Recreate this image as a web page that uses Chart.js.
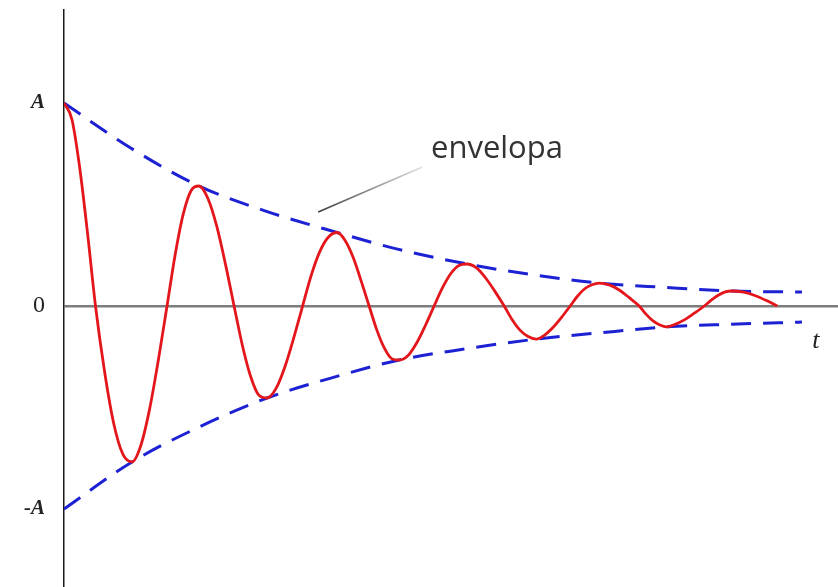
<!DOCTYPE html>
<html>
<head>
<meta charset="utf-8">
<title>Envelopa</title>
<script src="https://cdn.jsdelivr.net/npm/chart.js@4.4.1/dist/chart.umd.min.js"></script>
<style>
  html, body { margin: 0; padding: 0; background: #fff; }
  #wrap { width: 838px; height: 587px; position: relative; }
</style>
</head>
<body>
<div id="wrap"><canvas id="dampedChart"></canvas></div>
<script>
// osilasi teredam, t in half-periods, y in units of A
const tOsc = [
  0, 0.118, 0.236, 0.354, 0.472, 0.609, 0.746, 0.882,
  1.019, 1.150, 1.282, 1.413, 1.544, 1.664, 1.784, 1.904,
  2.024, 2.155, 2.287, 2.418, 2.549, 2.673, 2.796, 2.920,
  3.043, 3.176, 3.310, 3.443, 3.576, 3.705, 3.835, 3.964,
  4.093, 4.213, 4.333, 4.453, 4.573, 4.685, 4.798, 4.910,
  5.022, 5.153, 5.285, 5.416, 5.547, 5.671, 5.795, 5.918,
  6.042, 6.181, 6.320, 6.458, 6.597, 6.717, 6.837, 6.956,
  7.076, 7.204, 7.331, 7.459, 7.586, 7.695, 7.804, 7.912,
  8.021, 8.171, 8.321, 8.471, 8.621, 8.722, 8.823, 8.924,
  9.025, 9.168, 9.310, 9.453, 9.595, 9.700, 9.805, 9.910,
  10.015, 10.184, 10.353, 10.521, 10.69];
const yOsc = [
  1.0, 0.92, 0.68, 0.355, 0, -0.325, -0.58, -0.73,
  -0.768, -0.688, -0.509, -0.268, 0, 0.249, 0.449, 0.568,
  0.591, 0.531, 0.396, 0.209, 0, -0.193, -0.346, -0.439,
  -0.453, -0.407, -0.300, -0.157, 0, 0.151, 0.269, 0.340,
  0.362, 0.323, 0.240, 0.124, 0, -0.115, -0.205, -0.259,
  -0.266, -0.245, -0.182, -0.096, 0, 0.089, 0.159, 0.200,
  0.207, 0.188, 0.138, 0.072, 0, -0.068, -0.120, -0.150,
  -0.163, -0.143, -0.105, -0.055, 0, 0.048, 0.085, 0.105,
  0.113, 0.104, 0.079, 0.041, 0, -0.040, -0.072, -0.092,
  -0.103, -0.089, -0.066, -0.034, 0, 0.029, 0.053, 0.070,
  0.074, 0.068, 0.052, 0.028, 0];

const tUpper = [0, 1.0, 2.024, 3.0, 4.093, 5.0, 6.042, 7.0, 8.021, 9.0, 10.015, 11.06];
const yUpper = [1.0, 0.778, 0.591, 0.47, 0.362, 0.28, 0.207, 0.155, 0.113, 0.092, 0.074, 0.069];

const tLower = [0, 1.019, 2.0, 3.043, 4.0, 5.022, 6.0, 7.076, 8.0, 9.025, 10.0, 11.06];
const yLower = [-1.0, -0.768, -0.60, -0.453, -0.355, -0.266, -0.212, -0.163, -0.133, -0.103, -0.09, -0.079];

const yTicks = [-1, 0, 1];
const yTickLabels = ['-A', '0', 'A'];

const annotText = 'envelopa';
const axisName = 't';

const toPoints = (ts, ys) => ts.map((t, i) => ({ x: t, y: ys[i] }));

const annotPlugin = {
  id: 'annot',
  afterDatasetsDraw(chart) {
    const { ctx, scales: { x, y } } = chart;
    ctx.save();

    // garis penunjuk ke envelopa
    const x1 = x.getPixelForValue(3.81), y1 = y.getPixelForValue(0.463);
    const x2 = x.getPixelForValue(5.37), y2 = y.getPixelForValue(0.685);
    const grad = ctx.createLinearGradient(x1, y1, x2, y2);
    grad.addColorStop(0, 'rgba(60,60,60,1)');
    grad.addColorStop(1, 'rgba(60,60,60,0.15)');
    ctx.strokeStyle = grad;
    ctx.lineWidth = 1.6;
    ctx.beginPath();
    ctx.moveTo(x1, y1);
    ctx.lineTo(x2, y2);
    ctx.stroke();

    ctx.fillStyle = '#333';
    ctx.font = '31px "Open Sans"';
    ctx.textAlign = 'left';
    ctx.textBaseline = 'alphabetic';
    ctx.fillText(annotText, x.getPixelForValue(5.50), y.getPixelForValue(0.729));

    ctx.fillStyle = '#222';
    ctx.font = 'italic 26px "Liberation Serif"';
    ctx.textAlign = 'center';
    ctx.textBaseline = 'middle';
    ctx.fillText(axisName, x.getPixelForValue(11.27), y.getPixelForValue(-0.172));
    ctx.restore();
  }
};

const chart = new Chart(document.getElementById('dampedChart'), {
  type: 'line',
  data: {
    datasets: [
      {
        label: 'osilasi',
        data: toPoints(tOsc, yOsc),
        borderColor: '#e3161b',
        borderWidth: 2.8,
        pointRadius: 0,
        cubicInterpolationMode: 'monotone',
        fill: false
      },
      {
        label: 'envelopa atas',
        data: toPoints(tUpper, yUpper),
        borderColor: '#1c22d4',
        borderWidth: 3,
        borderDash: [20, 12],
        pointRadius: 0,
        cubicInterpolationMode: 'monotone',
        fill: false
      },
      {
        label: 'envelopa bawah',
        data: toPoints(tLower, yLower),
        borderColor: '#1c22d4',
        borderWidth: 3,
        borderDash: [20, 12],
        pointRadius: 0,
        cubicInterpolationMode: 'monotone',
        fill: false
      }
    ]
  },
  options: {
    responsive: true,
    maintainAspectRatio: false,
    animation: false,
    layout: { padding: { top: 10, right: 0, bottom: 0, left: 0 } },
    plugins: { legend: { display: false }, tooltip: { enabled: false } },
    scales: {
      x: { type: 'linear', min: 0, max: 11.6, display: false },
      y: {
        type: 'linear',
        min: -1.384,
        max: 1.458,
        afterFit: (s) => { s.width = 64; s.paddingTop = 0; s.paddingBottom = 0; },
        afterBuildTicks: (s) => { s.ticks = yTicks.map(v => ({ value: v })); },
        border: { display: true, color: '#1a1a1a', width: 1.5 },
        grid: {
          drawTicks: false,
          lineWidth: 2.5,
          color: (c) => (c.tick && c.tick.value === 0 ? '#7d7d7d' : 'rgba(0,0,0,0)')
        },
        ticks: {
          padding: 19,
          color: '#222',
          callback: (v) => yTickLabels[yTicks.indexOf(v)],
          font: (c) => (c.tick && c.tick.value === 0
            ? { family: 'Liberation Serif', size: 24 }
            : { family: 'Liberation Serif', size: 21, style: 'italic', weight: 'bold' })
        }
      }
    }
  },
  plugins: [annotPlugin]
});
</script>
</body>
</html>
